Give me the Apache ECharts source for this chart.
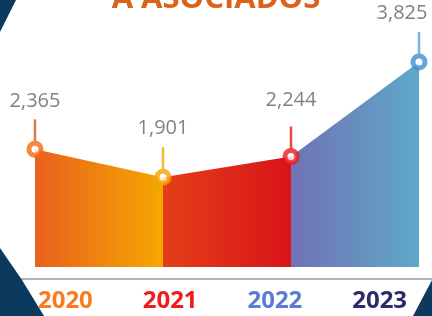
<!DOCTYPE html>
<html>
<head>
<meta charset="utf-8">
<script src="https://cdn.jsdelivr.net/npm/echarts@6/dist/echarts.min.js"></script>
<style>
  html, body { margin: 0; padding: 0; background: #fff; }
  #chart { width: 432px; height: 316px; }
</style>
</head>
<body>
<div id="chart"></div>
<script>
// data
const years = ['2020', '2021', '2022', '2023'];
const members = [2365, 1901, 2244, 3825];

// styling per point / segment
const yearColors = ['#f97a1f', '#f01c1c', '#5b7bd5', '#2d2a6b'];
const ringColors = ['#f46a0c', '#f5a300', '#ef1a1a', '#3d8fd2'];
const stemColors = ['#d55a1e', '#f2a900', '#e81818', '#5aa3d2'];
const segColors = [
  ['#e8601c', '#f5a800'],
  ['#e33f17', '#d9141a'],
  ['#7072b5', '#5fa8c8']
];
const labelNudge = [[0, 0], [0, 0], [0, -8], [-17, 0]];

const chart = echarts.init(document.getElementById('chart'));

// one area series per segment so each can carry its own gradient
const segSeries = segColors.map((c, i) => ({
  type: 'line',
  xAxisIndex: 0,
  yAxisIndex: 0,
  data: members.map((v, j) => (j === i || j === i + 1 ? v : '-')),
  showSymbol: false,
  silent: true,
  lineStyle: { width: 0 },
  areaStyle: {
    opacity: 1,
    color: new echarts.graphic.LinearGradient(0, 0, 1, 0, [
      { offset: 0, color: c[0] },
      { offset: 1, color: c[1] }
    ])
  },
  z: 1
}));

const option = {
  animation: false,
  title: {
    text: 'A ASOCIADOS',
    left: 'center',
    top: -21,
    textStyle: { fontFamily: 'Open Sans', fontWeight: 'bold', fontSize: 31, color: '#d9631c' }
  },
  grid: [
    { left: 35, right: 13, top: 51.5, bottom: 49 },
    { left: 13, right: 0, top: 200, bottom: 37 }
  ],
  xAxis: [
    { type: 'category', gridIndex: 0, data: years, boundaryGap: false, show: false },
    {
      type: 'category', gridIndex: 1, data: years, boundaryGap: true,
      axisLine: { lineStyle: { color: '#b3b3b3', width: 2 } },
      axisTick: { lineStyle: { color: '#a0a0a0', width: 2 }, length: 4 },
      axisLabel: {
        margin: 10,
        fontFamily: 'Open Sans',
        fontWeight: 'bold',
        fontSize: 24,
        color: (v, i) => yearColors[i]
      }
    }
  ],
  yAxis: [
    { type: 'value', gridIndex: 0, min: 400, max: 4000, show: false },
    { type: 'value', gridIndex: 1, show: false }
  ],
  series: [
    ...segSeries,
    {
      type: 'scatter',
      xAxisIndex: 0,
      yAxisIndex: 0,
      data: members,
      symbol: 'rect',
      symbolSize: [2.5, 22],
      symbolOffset: [0, -19],
      silent: true,
      itemStyle: { color: (p) => stemColors[p.dataIndex] },
      z: 3
    },
    {
      type: 'scatter',
      xAxisIndex: 0,
      yAxisIndex: 0,
      data: members.map((v, i) => ({
        value: v,
        itemStyle: { borderColor: ringColors[i] },
        label: { offset: labelNudge[i] }
      })),
      symbol: 'circle',
      symbolSize: 12,
      itemStyle: { color: '#fff', borderWidth: 5 },
      label: {
        show: true,
        position: 'top',
        distance: 30,
        fontFamily: 'Open Sans',
        fontSize: 20,
        color: '#616161',
        formatter: (p) => p.value.toLocaleString('en-US')
      },
      z: 5
    }
  ],
  graphic: [
    { type: 'polygon', shape: { points: [[0, 0], [16, 0], [0, 32]] }, style: { fill: '#0b3a5e' }, z: 100 },
    { type: 'polygon', shape: { points: [[0, 248], [22, 280], [44, 316], [0, 316]] }, style: { fill: '#0b3a5e' }, z: 100 },
    { type: 'polygon', shape: { points: [[432, 280], [413, 316], [432, 316]] }, style: { fill: '#0b3a5e' }, z: 100 }
  ]
};

chart.setOption(option);
</script>
</body>
</html>
